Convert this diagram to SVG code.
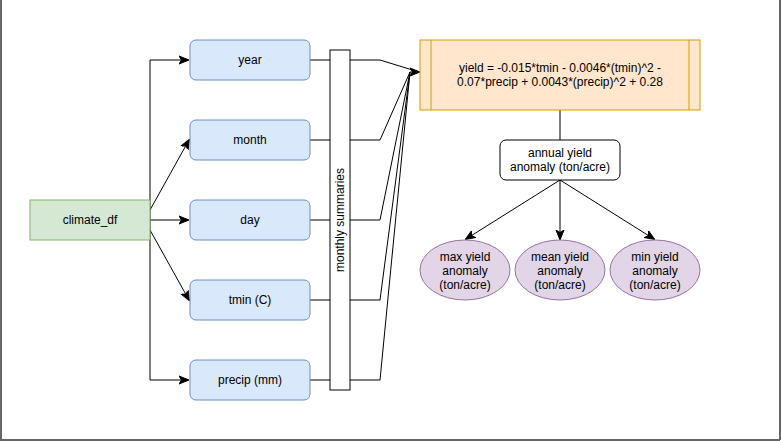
<svg xmlns="http://www.w3.org/2000/svg" width="781" height="441" viewBox="0 0 781 441">
<defs>
<style>
text{font-family:"Liberation Sans",Arial,Helvetica,sans-serif;font-size:12px;fill:#000;text-anchor:middle}
.blue{fill:#dae8fc;stroke:#6c8ebf;stroke-width:1}
.edge{fill:none;stroke:#000;stroke-width:1}
.purple{fill:#e1d5e7;stroke:#9673a6;stroke-width:1}
</style>
<marker id="arr" viewBox="0 0 10 10" refX="9" refY="5" markerWidth="10" markerHeight="10" markerUnits="userSpaceOnUse" orient="auto">
<path d="M0,1 L10,5 L0,9 L2.5,5 Z" fill="#000" stroke="#000" stroke-width="1"/>
</marker>
</defs>
<rect x="0" y="0" width="781" height="441" fill="#fff"/>
<g id="frame" stroke="#666" stroke-width="2" fill="none">
<line x1="1" y1="0" x2="1" y2="440"/>
<line x1="0" y1="440" x2="780" y2="440"/>
<line x1="780" y1="0" x2="780" y2="440"/>
</g>
<g id="connectors">
<path class="edge" d="M150,220 V60 H188" marker-end="url(#arr)"/>
<path class="edge" d="M150,210 L189,140" marker-end="url(#arr)"/>
<path class="edge" d="M150,220 H188" marker-end="url(#arr)"/>
<path class="edge" d="M150,230 L189,300" marker-end="url(#arr)"/>
<path class="edge" d="M150,220 V380 H188" marker-end="url(#arr)"/>
<path class="edge" d="M310,60 H330 M350,60 H380 L419,72"/>
<path class="edge" d="M310,140 H330 M350,140 H380 L410,72"/>
<path class="edge" d="M310,220 H330 M350,220 H380 L410,72"/>
<path class="edge" d="M310,300 H330 M350,300 H380 L410,72"/>
<path class="edge" d="M310,380 H330 M350,380 H380 L410,72"/>
<path class="edge" d="M410,72 L419,72" marker-end="url(#arr)"/>
<path class="edge" d="M560,110 V140"/>
<path class="edge" d="M560,180 L466,239" marker-end="url(#arr)"/>
<path class="edge" d="M560,180 V239" marker-end="url(#arr)"/>
<path class="edge" d="M560,180 L654,239" marker-end="url(#arr)"/>
</g>
<g id="climate_df">
<rect x="30" y="200" width="120" height="40" fill="#d5e8d4" stroke="#82b366"/>
<text x="90" y="224">climate_df</text>
</g>
<g id="year">
<rect class="blue" x="190" y="40" width="120" height="40" rx="6"/>
<text x="250" y="64">year</text>
</g>
<g id="month">
<rect class="blue" x="190" y="120" width="120" height="40" rx="6"/>
<text x="250" y="144">month</text>
</g>
<g id="day">
<rect class="blue" x="190" y="200" width="120" height="40" rx="6"/>
<text x="250" y="224">day</text>
</g>
<g id="tmin">
<rect class="blue" x="190" y="280" width="120" height="40" rx="6"/>
<text x="250" y="304">tmin (C)</text>
</g>
<g id="precip">
<rect class="blue" x="190" y="360" width="120" height="40" rx="6"/>
<text x="250" y="384">precip (mm)</text>
</g>
<g id="monthly_summaries">
<rect x="330" y="50" width="20" height="340" fill="#fff" stroke="#000"/>
<text transform="translate(344,220) rotate(-90)">monthly summaries</text>
</g>
<g id="yield_formula">
<rect x="420" y="40" width="280" height="70" fill="#ffe6cc" stroke="#d79b00"/>
<line x1="431" y1="40" x2="431" y2="110" stroke="#d79b00"/>
<line x1="689" y1="40" x2="689" y2="110" stroke="#d79b00"/>
<text x="560" y="72">yield = -0.015*tmin - 0.0046*(tmin)^2 -</text>
<text x="560" y="86">0.07*precip + 0.0043*(precip)^2 + 0.28</text>
</g>
<g id="annual_yield">
<rect x="500" y="140" width="120" height="40" rx="6" fill="#fff" stroke="#000"/>
<text x="560" y="157">annual yield</text>
<text x="560" y="171">anomaly (ton/acre)</text>
</g>
<g id="max_yield">
<ellipse class="purple" cx="465" cy="270" rx="45" ry="30"/>
<text x="465" y="261">max yield</text>
<text x="465" y="275">anomaly</text>
<text x="465" y="289">(ton/acre)</text>
</g>
<g id="mean_yield">
<ellipse class="purple" cx="560" cy="270" rx="45" ry="30"/>
<text x="560" y="261">mean yield</text>
<text x="560" y="275">anomaly</text>
<text x="560" y="289">(ton/acre)</text>
</g>
<g id="min_yield">
<ellipse class="purple" cx="655" cy="270" rx="45" ry="30"/>
<text x="655" y="261">min yield</text>
<text x="655" y="275">anomaly</text>
<text x="655" y="289">(ton/acre)</text>
</g>
</svg>
